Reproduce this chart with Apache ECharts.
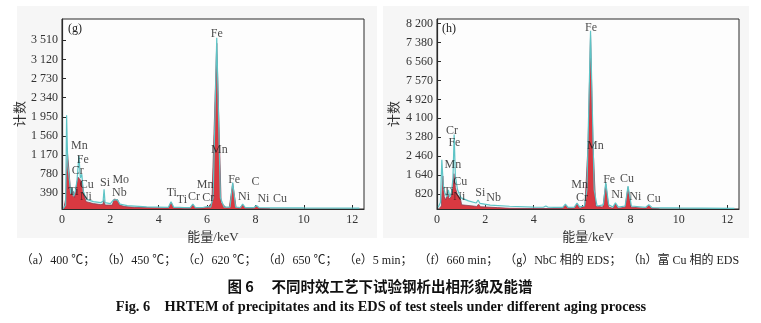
<!DOCTYPE html>
<html><head><meta charset="utf-8">
<script src="https://cdn.jsdelivr.net/npm/echarts@6/dist/echarts.min.js"></script>
<style>html,body{margin:0;padding:0;background:#fff}#c{width:761px;height:323px}</style>
</head><body><div id="c"></div>
<script>
// ---- data: panel (g) NbC phase EDS ----
const xTicks = [0, 2, 4, 6, 8, 10, 12];
const gYTicks = [390, 780, 1170, 1560, 1950, 2340, 2730, 3120, 3510];
const gYTickLabels = ["390", "780", "1 170", "1 560", "1 950", "2 340", "2 730", "3 120", "3 510"];
const gCyanKeV = [0.05,0.15,0.19,0.24,0.30,0.36,0.42,0.47,0.55,0.62,0.70,0.76,0.82,0.88,0.95,1.05,1.30,1.60,1.70,1.74,1.78,2.00,2.12,2.20,2.28,2.40,2.70,3.50,4.40,4.51,4.62,4.85,4.93,5.05,5.30,5.41,5.52,5.85,5.93,6.02,6.15,6.25,6.40,6.55,6.70,6.95,7.06,7.18,7.38,7.47,7.58,7.95,8.04,8.15,9.00,10.0,11.0,12.3];
const gCyanCounts = [80,150,1980,950,700,380,500,330,430,650,1150,700,780,430,340,260,220,200,230,470,200,180,250,280,260,170,140,115,105,220,105,105,120,100,100,170,100,105,130,120,110,300,3560,300,110,110,610,110,100,170,100,100,140,100,95,92,90,88];
const gRedKeV = [0.08,0.16,0.22,0.28,0.34,0.40,0.46,0.52,0.58,0.66,0.72,0.78,0.85,0.92,1.00,1.30,1.60,1.70,1.73,1.78,2.08,2.15,2.22,2.30,2.38,2.60,3.00,4.40,4.51,4.62,4.85,4.93,5.01,5.30,5.41,5.52,5.85,5.92,6.05,6.20,6.40,6.58,6.80,6.92,7.06,7.20,7.35,7.47,7.58,7.90,8.04,8.15,8.60];
const gRedCounts = [80,300,1250,900,500,380,430,300,500,720,760,650,560,330,220,180,160,170,260,150,150,270,240,260,150,120,105,90,210,90,90,105,90,85,160,85,90,120,110,200,3450,200,90,100,590,100,85,160,85,85,130,80,75];
const gLabelText = ["Fe","Mn","Mn","Fe","Cr","Cu","Ti","Ni","Si","Mo","Nb","Ti","Ti","Cr","Mn","Cr","Fe","Ni","C","Ni","Cu"];
const gLabelKeV = [6.40,6.51,0.72,0.86,0.65,1.02,0.47,0.99,1.78,2.43,2.37,4.54,4.96,5.46,5.92,6.05,7.12,7.53,8.00,8.33,9.02];
const gLabelCounts = [3640,1283,1350,1080,842,572,422,320,605,674,390,402,254,309,558,288,660,320,619,274,268];

// ---- data: panel (h) Cu-rich phase EDS ----
const hYTicks = [820, 1640, 2460, 3280, 4100, 4920, 5740, 6560, 7380, 8200];
const hYTickLabels = ["820", "1 640", "2 460", "3 280", "4 100", "4 920", "7 570", "6 560", "7 380", "8 200"];
const hCyanKeV = [0.05,0.14,0.20,0.26,0.32,0.40,0.47,0.53,0.60,0.66,0.71,0.76,0.85,0.93,1.00,1.30,1.62,1.70,1.78,2.20,3.00,4.00,4.40,4.50,4.60,4.85,4.93,5.02,5.20,5.31,5.42,5.68,5.79,5.90,6.10,6.20,6.35,6.50,6.62,6.88,6.98,7.10,7.28,7.38,7.50,7.78,7.90,8.04,8.62,8.76,8.90,10.0,11.0,12.3];
const hCyanCounts = [250,450,2300,1200,900,700,1000,700,900,1500,3400,1600,1000,800,650,520,430,560,410,340,290,250,245,300,245,240,280,240,240,380,240,250,430,260,300,1000,7900,1000,300,350,1330,350,260,440,250,300,1160,300,240,360,230,215,210,200];
const hRedKeV = [0.10,0.18,0.24,0.30,0.36,0.44,0.50,0.58,0.64,0.70,0.76,0.84,0.92,0.98,1.02,1.50,1.64,1.72,1.80,2.50,3.00,4.00,5.20,5.31,5.42,5.68,5.79,5.90,6.12,6.25,6.35,6.45,6.56,6.86,6.98,7.10,7.28,7.38,7.48,7.78,7.90,8.02,8.65,8.76,8.87,9.20];
const hRedCounts = [200,300,1600,700,560,900,600,700,1000,1700,1100,800,700,560,350,300,280,380,270,230,200,190,190,330,190,200,400,200,300,3000,7700,3000,300,250,1250,250,200,400,200,250,1100,250,200,330,200,180];
const hLabelText = ["Fe","Mn","Cr","Fe","Mn","Cu","Ti","Ni","Si","Nb","Mn","Cr","Fe","Cu","Ni","Ni","Cu"];
const hLabelKeV = [6.37,6.55,0.62,0.72,0.66,0.96,0.48,0.92,1.79,2.34,5.90,6.00,7.12,7.86,7.45,8.20,8.96];
const hLabelCounts = [8010,2917,3567,3020,2079,1354,920,703,877,647,1211,660,1428,1458,777,677,590];

const captionLine1 = "（a）400 ℃；  （b）450 ℃；  （c）620 ℃；  （d）650 ℃；  （e）5 min；  （f）660 min；  （g）NbC 相的 EDS；  （h）富 Cu 相的 EDS";
const captionLine2 = "图 6　 不同时效工艺下试验钢析出相形貌及能谱";
const captionLine3 = "Fig. 6    HRTEM of precipitates and its EDS of test steels under different aging process";

// ---- build ----
const zip = (a, b) => a.map((v, i) => [v, b[i]]);
const serif = '"Liberation Serif","Noto Sans CJK SC",serif';
const CYAN = '#5ec4c6', RED = '#e2232b', MAROON = '#8a2a40';

function grid(left) {
  return {left: left, width: 302, top: 19, height: 190, show: true,
    backgroundColor: '#fdfdfd', borderColor: '#2a2a2a', borderWidth: 1};
}
function xAx(i) {
  return {gridIndex: i, type: 'value', min: 0, max: 12.49,
    name: '能量/keV', nameLocation: 'middle', nameGap: 13,
    nameTextStyle: {fontFamily: serif, fontSize: 13, color: '#333'},
    axisLine: {lineStyle: {color: '#2a2a2a', width: 1.2}},
    axisTick: {inside: true, length: 4, customValues: xTicks, lineStyle: {color: '#2a2a2a'}},
    axisLabel: {customValues: xTicks, margin: 5, fontFamily: serif, fontSize: 12, color: '#333'},
    splitLine: {show: false}};
}
function yAx(i, min, max, ticks, labels, gap) {
  return {gridIndex: i, type: 'value', min: min, max: max,
    name: '计数', nameLocation: 'middle', nameGap: gap, nameRotate: 90,
    nameTextStyle: {fontFamily: serif, fontSize: 13, color: '#333'},
    axisLine: {lineStyle: {color: '#2a2a2a', width: 1.2}},
    axisTick: {inside: true, length: 4, customValues: ticks, lineStyle: {color: '#2a2a2a'}},
    axisLabel: {customValues: ticks, margin: 4, fontFamily: serif, fontSize: 12, color: '#333',
      formatter: v => { const k = ticks.indexOf(v); return k >= 0 ? labels[k] : ''; }},
    splitLine: {show: false}};
}
function spectrum(i, cx, cy, rx, ry, lt, lx, ly) {
  return [
    {type: 'line', xAxisIndex: i, yAxisIndex: i, data: zip(rx, ry), symbol: 'none', z: 2,
      lineStyle: {color: MAROON, width: 0.8}, areaStyle: {color: RED, opacity: 1}},
    {type: 'line', xAxisIndex: i, yAxisIndex: i, data: zip(cx, cy), symbol: 'none', z: 3,
      lineStyle: {color: CYAN, width: 1.2}, areaStyle: {color: 'rgba(150,215,220,0.18)'}},
    {type: 'scatter', xAxisIndex: i, yAxisIndex: i, symbolSize: 0, z: 5, silent: true,
      data: lt.map((t, k) => ({name: t, value: [lx[k], ly[k]]})),
      label: {show: true, position: 'inside', formatter: p => p.name,
        fontFamily: serif, fontSize: 12, color: '#1a1a1a'}}
  ];
}

const chart = echarts.init(document.getElementById('c'), null, {renderer: 'canvas'});
chart.setOption({
  animation: false,
  backgroundColor: '#ffffff',
  grid: [grid(62), grid(437)],
  xAxis: [xAx(0), xAx(1)],
  yAxis: [yAx(0, 70, 3945, gYTicks, gYTickLabels, 33), yAx(1, 170, 8405, hYTicks, hYTickLabels, 36)],
  series: [].concat(
    spectrum(0, gCyanKeV, gCyanCounts, gRedKeV, gRedCounts, gLabelText, gLabelKeV, gLabelCounts),
    spectrum(1, hCyanKeV, hCyanCounts, hRedKeV, hRedCounts, hLabelText, hLabelKeV, hLabelCounts)),
  graphic: [
    {type: 'rect', z: -10, shape: {x: 17, y: 6, width: 360, height: 232}, style: {fill: '#f6f6f6'}},
    {type: 'rect', z: -10, shape: {x: 383, y: 6, width: 366, height: 232}, style: {fill: '#f6f6f6'}},
    {type: 'text', left: 68, top: 23, z: 10, style: {text: '(g)', font: '12px ' + serif, fill: '#222'}},
    {type: 'text', left: 442, top: 23, z: 10, style: {text: '(h)', font: '12px ' + serif, fill: '#222'}},
    {type: 'text', x: 380, y: 261, z: 10, style: {text: captionLine1, font: '12px ' + serif, fill: '#222', textAlign: 'center', textVerticalAlign: 'middle'}},
    {type: 'text', x: 380, y: 286, z: 10, style: {text: captionLine2, font: 'bold 14.5px "Noto Sans CJK SC",sans-serif', fill: '#111', textAlign: 'center', textVerticalAlign: 'middle'}},
    {type: 'text', x: 381, y: 307, z: 10, style: {text: captionLine3, font: 'bold 14.4px "Liberation Serif",serif', fill: '#111', textAlign: 'center', textVerticalAlign: 'middle'}}
  ]
});
</script></body></html>
